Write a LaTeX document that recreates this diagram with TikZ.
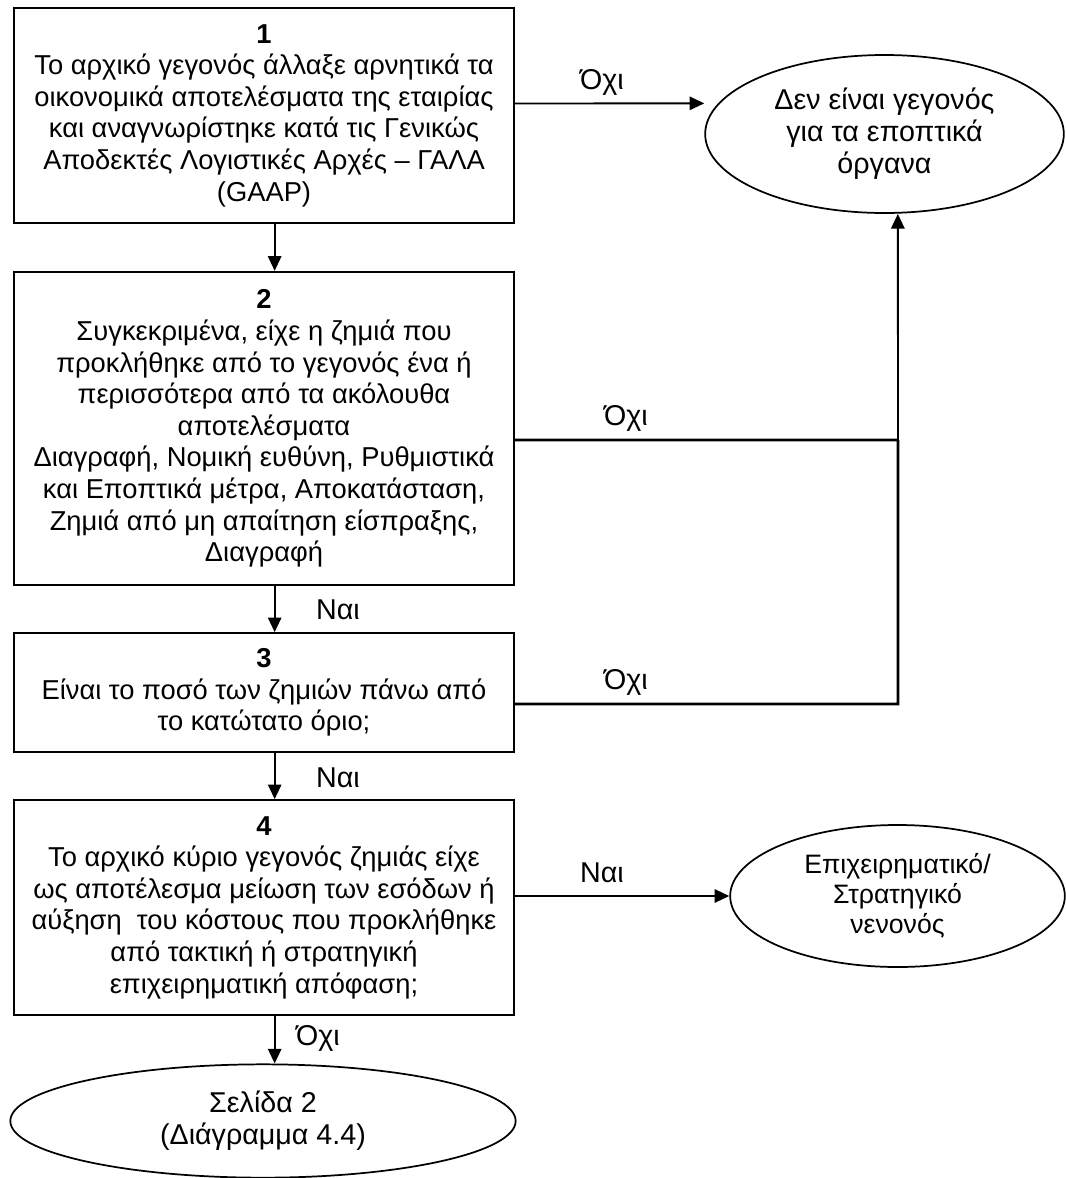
\documentclass[tikz,border=0pt]{standalone}
\usepackage{fontspec}
\setmainfont{Liberation Sans}
\usetikzlibrary{shapes.geometric,arrows.meta,positioning}

\tikzset{
  stepbox/.style={draw, line width=1.5pt, align=center, minimum width=375pt, font=\fontsize{20.5}{23.7}\selectfont},
  endnode/.style={draw, ellipse, line width=1.3pt, align=center, inner sep=0pt, font=\fontsize{21.5}{24}\selectfont},
  flow/.style={line width=1.4pt, -{Triangle[length=11pt,width=10pt]}},
  branch/.style={line width=2.2pt},
  answer/.style={font=\fontsize{21.5}{25}\selectfont}
}

\begin{document}
\begin{tikzpicture}[x=0.75pt, y=-0.75pt]
\useasboundingbox (0,0) rectangle (1066,1178);

\node[stepbox, minimum height=161pt] (q1) at (264,115.5) {\textbf{1}\\Το αρχικό γεγονός άλλαξε αρνητικά τα\\οικονομικά αποτελέσματα της εταιρίας\\και αναγνωρίστηκε κατά τις Γενικώς\\Αποδεκτές Λογιστικές Αρχές – ΓΑΛΑ\\(GAAP)};
\node[stepbox, minimum height=235pt] (q2) at (264,428.5) {\textbf{2}\\Συγκεκριμένα, είχε η ζημιά που\\προκλήθηκε από το γεγονός ένα ή\\περισσότερα από τα ακόλουθα\\αποτελέσματα\\Διαγραφή, Νομική ευθύνη, Ρυθμιστικά\\και Εποπτικά μέτρα, Αποκατάσταση,\\Ζημιά από μη απαίτηση είσπραξης,\\Διαγραφή};
\node[stepbox, minimum height=89pt] (q3) at (264,692.5) {\textbf{3}\\Είναι το ποσό των ζημιών πάνω από\\το κατώτατο όριο;};
\node[stepbox, minimum height=161pt] (q4) at (264,907.5) {\textbf{4}\\Το αρχικό κύριο γεγονός ζημιάς είχε\\ως αποτέλεσμα μείωση των εσόδων ή\\αύξηση\ \ του κόστους που προκλήθηκε\\από τακτική ή στρατηγική\\επιχειρηματική απόφαση;};

\node[endnode, minimum width=269pt, minimum height=118.5pt] (notevent) at (884.5,134) {Δεν είναι γεγονός\\για τα εποπτικά\\όργανα};
\node[endnode, minimum width=251pt, minimum height=106.5pt, font=\fontsize{20}{22.5}\selectfont] (business) at (897.5,896) {Επιχειρηματικό/\\Στρατηγικό\\νενονός};
\node[endnode, minimum width=379pt, minimum height=85pt] (page2) at (263,1121) {Σελίδα 2\\(Διάγραμμα 4.4)};

% main column
\draw[flow] ([xshift=8pt]q1.south) -- ([xshift=8pt]q2.north);
\draw[flow] ([xshift=8pt]q2.south) -- ([xshift=8pt]q3.north);
\draw[flow] ([xshift=8pt]q3.south) -- ([xshift=8pt]q4.north);
\draw[flow] ([xshift=8pt]q4.south) -- ([xshift=8pt]q4.south |- page2.north);

% the "no" branches
\coordinate (j2) at (898,440);
\coordinate (j3) at (898,704);
\draw[flow] ([yshift=9pt]q1.east) -- ([yshift=23pt]notevent.west);
\draw[branch] ([yshift=-8.6pt]q2.east) -- (j2);
\draw[branch] ([yshift=-8.6pt]q3.east) -- (j3) -- (j2);
\draw[flow] (j2) -- ([xshift=10pt]notevent.south);
\draw[flow] (q4.east |- business.west) -- (business.west);

% answers
\node[answer] (no1) at (602,82) {Όχι};
\node[answer] (no2) at (626,418) {Όχι};
\node[answer] (no3) at (626,682) {Όχι};
\node[answer] (yes2) at (338,610) {Ναι};
\node[answer] (yes3) at (338,778) {Ναι};
\node[answer] (yes4) at (602,873) {Ναι};
\node[answer] (no4) at (318,1038) {Όχι};
\end{tikzpicture}
\end{document}
